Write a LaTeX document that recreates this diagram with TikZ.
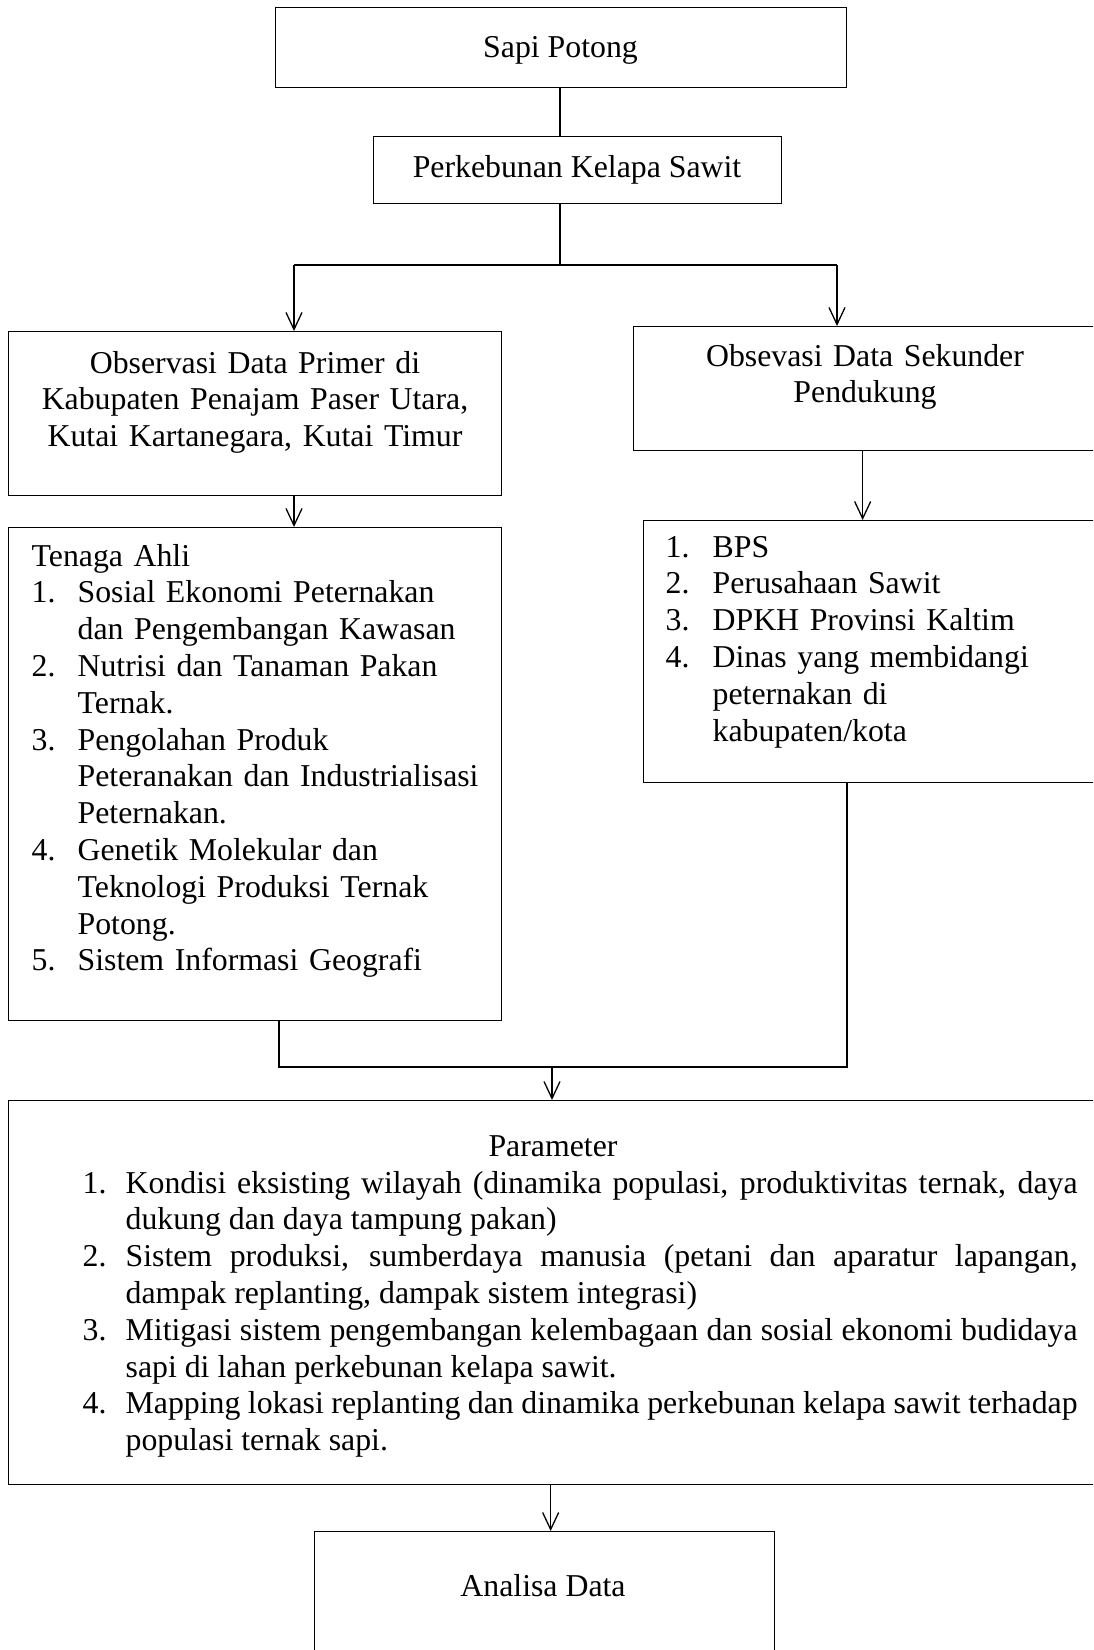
\documentclass[tikz,border=0pt]{standalone}
\usepackage{fontspec}
\setmainfont{Liberation Serif}
\usetikzlibrary{arrows.meta}

% list items with hanging number
\newcommand{\butir}[3]{\hangindent=#1\relax\hangafter=1\noindent\makebox[#1][l]{#2}#3\par}

\tikzset{
  kotak/.style={draw, line width=1.3pt, inner sep=0pt, anchor=north west},
  teks/.style={inner sep=0pt, anchor=base},
  daftar/.style={inner sep=0pt, anchor=base west, align=left},
}

\begin{document}
\begin{tikzpicture}[x=1pt, y=-1pt, line width=1.3pt,
    >={Straight Barb[length=17pt,width=16pt]},
    font=\fontsize{31.8pt}{36.8pt}\selectfont]
  \useasboundingbox (0,0) rectangle (1093,1650);
  \clip (0,0) rectangle (1093,1650);

  % Boxes
  \node[kotak, minimum width=571pt, minimum height=80pt] (sapi) at (275,7) {};
  \node[kotak, minimum width=408pt, minimum height=67pt] (kebun) at (373,136) {};
  \node[kotak, minimum width=493pt, minimum height=164pt] (primer) at (8,331) {};
  \node[kotak, minimum width=480pt, minimum height=124pt] (sekunder) at (633,326) {};
  \node[kotak, minimum width=493pt, minimum height=493pt] (ahli) at (8,527) {};
  \node[kotak, minimum width=470pt, minimum height=262pt] (sumber) at (643,520) {};
  \node[kotak, minimum width=1105pt, minimum height=384pt] (param) at (8,1100) {};
  \node[kotak, minimum width=460pt, minimum height=140pt] (analisa) at (314,1531) {};

  % Texts
  \node[teks] (sapitxt) at (560.5,57) {Sapi Potong};
  \node[teks] (kebuntxt) at (577,177) {Perkebunan Kelapa Sawit};
  \node[teks, text width=480pt, align=center] (primertxt) at (255,373)
    {Observasi Data Primer di\\Kabupaten Penajam Paser Utara,\\Kutai Kartanegara, Kutai Timur};
  \node[teks, text width=440pt, align=center] (sekundertxt) at (865,366)
    {Obsevasi Data Sekunder\\Pendukung};
  \node[daftar, text width=470pt] (ahlitxt) at (31,566) {%
    Tenaga Ahli\par
    \butir{46pt}{1.}{Sosial Ekonomi Peternakan\newline dan Pengembangan Kawasan}
    \butir{46pt}{2.}{Nutrisi dan Tanaman Pakan\newline Ternak.}
    \butir{46pt}{3.}{Pengolahan Produk\newline Peteranakan dan Industrialisasi\newline Peternakan.}
    \butir{46pt}{4.}{Genetik Molekular dan\newline Teknologi Produksi Ternak\newline Potong.}
    \butir{46pt}{5.}{Sistem Informasi Geografi}};
  \node[daftar, text width=420pt] (sumbertxt) at (665,557) {%
    \butir{47pt}{1.}{BPS}
    \butir{47pt}{2.}{Perusahaan Sawit}
    \butir{47pt}{3.}{DPKH Provinsi Kaltim}
    \butir{47pt}{4.}{Dinas yang membidangi\newline peternakan di\newline kabupaten/kota}};
  \node[teks] (paramjudul) at (553,1156) {Parameter};
  \node[daftar, text width=995pt, align=justify] (paramtxt) at (82,1193) {%
    \butir{43pt}{1.}{Kondisi eksisting wilayah (dinamika populasi, produktivitas ternak, daya\linebreak dukung dan daya tampung pakan)}
    \butir{43pt}{2.}{Sistem produksi, sumberdaya manusia (petani dan aparatur lapangan,\linebreak dampak replanting, dampak sistem integrasi)}
    \butir{43pt}{3.}{Mitigasi sistem pengembangan kelembagaan dan sosial ekonomi budidaya\linebreak sapi di lahan perkebunan kelapa sawit.}
    \butir{43pt}{4.}{Mapping lokasi replanting dan dinamika perkebunan kelapa sawit terhadap\linebreak populasi ternak sapi.}};
  \node[teks] (analisatxt) at (543,1596) {Analisa Data};

  % Connectors
  \coordinate (cabang) at (560,265);
  \coordinate (kiri) at (294,265);
  \coordinate (kanan) at (837,265);
  \draw (sapi.south -| cabang) -- (kebun.north -| cabang);
  \draw (kebun.south -| cabang) -- (cabang);
  \draw[line width=2pt] (kiri) -- (kanan);
  \draw[->] (kiri) -- (kiri |- primer.north);
  \draw[->] (kanan) -- (kanan |- sekunder.north);
  \draw[->] (primer.south -| kiri) -- (ahli.north -| kiri);
  \draw[->] ([xshift=-11pt]sekunder.south) -- ([xshift=-11pt]sekunder.south |- sumber.north);

  \coordinate (kirib) at (279,1067);
  \coordinate (kananb) at (847,1067);
  \coordinate (gabung) at (552,1067);
  \draw (ahli.south -| kirib) -- (kirib) -- (kananb) -- (sumber.south -| kananb);
  \draw[->] (gabung) -- (gabung |- param.north);
  \draw[->] ([xshift=6pt]analisa.north |- param.south) -- ([xshift=6pt]analisa.north);
\end{tikzpicture}
\end{document}
